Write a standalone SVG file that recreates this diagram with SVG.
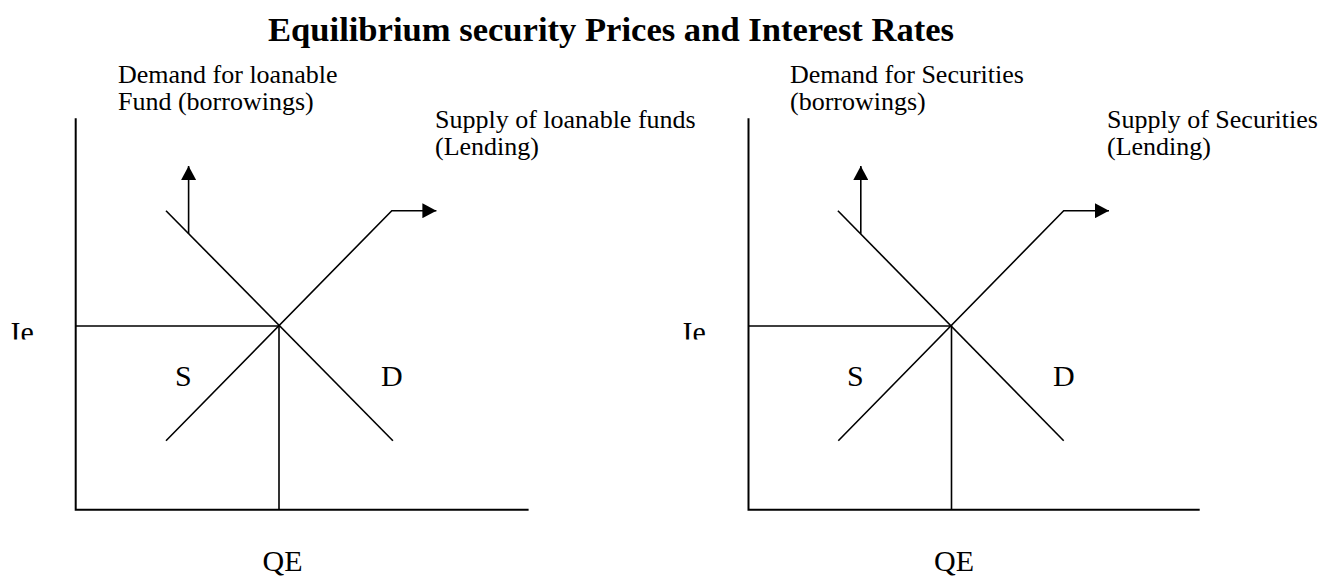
<svg xmlns="http://www.w3.org/2000/svg" width="1337" height="579" viewBox="0 0 1337 579">
  <defs>
    <style>
      .axis { stroke: #000; stroke-width: 2; fill: none; }
      .ln { stroke: #000; stroke-width: 1.6; fill: none; }
      .title { font-family: "Liberation Serif", "Times New Roman", serif; font-size: 34.6px; font-weight: bold; fill: #000; }
      .lbl { font-family: "Liberation Serif", "Times New Roman", serif; font-size: 26px; fill: #000; }
      .big { font-family: "Liberation Serif", "Times New Roman", serif; font-size: 30px; fill: #000; }
    </style>
    <marker id="arrow" markerUnits="userSpaceOnUse" markerWidth="15" markerHeight="15" refX="14" refY="7.5" orient="auto">
      <path d="M0,0 L14,7.5 L0,15 Z" fill="#000"/>
    </marker>
    <clipPath id="clipIe">
      <rect x="0" y="300" width="1337" height="39.5"/>
    </clipPath>
  </defs>
  <rect width="1337" height="579" fill="#fff"/>

  <text id="title" class="title" x="268" y="41">Equilibrium security Prices and Interest Rates</text>

  <g id="chart-left">
    <g id="left-labels">
      <text class="lbl" x="118" y="83">Demand for loanable</text>
      <text class="lbl" x="118" y="110">Fund (borrowings)</text>
      <text class="lbl" x="435" y="128">Supply of loanable funds</text>
      <text class="lbl" x="435" y="155">(Lending)</text>
      <text class="big" x="10.5" y="341.5" clip-path="url(#clipIe)">Ie</text>
      <text class="big" x="175" y="386">S</text>
      <text class="big" x="381" y="386">D</text>
      <text class="big" x="262.5" y="571">QE</text>
    </g>
    <g id="left-connectors">
      <polyline class="axis" points="75.7,118.3 75.7,509.7 528.6,509.7"/>
      <polyline class="ln" points="75.7,326 279,326 279,509.7"/>
      <line class="ln" x1="166" y1="210.7" x2="392.9" y2="440.7"/>
      <polyline class="ln" points="166,440.7 391.8,210.7 436.4,210.7" marker-end="url(#arrow)"/>
      <line class="ln" x1="188.6" y1="233.8" x2="188.6" y2="166" marker-end="url(#arrow)"/>
    </g>
  </g>

  <g id="chart-right">
    <g id="right-labels">
      <text class="lbl" x="790" y="83">Demand for Securities</text>
      <text class="lbl" x="790" y="110">(borrowings)</text>
      <text class="lbl" x="1107" y="128">Supply of Securities</text>
      <text class="lbl" x="1107" y="155">(Lending)</text>
      <text class="big" x="682.5" y="341.5" clip-path="url(#clipIe)">Ie</text>
      <text class="big" x="847" y="386">S</text>
      <text class="big" x="1053" y="386">D</text>
      <text class="big" x="934" y="571">QE</text>
    </g>
    <g id="right-connectors">
      <polyline class="axis" points="748.5,118.3 748.5,509.7 1199.7,509.7"/>
      <polyline class="ln" points="748.5,326 951.5,326 951.5,509.7"/>
      <line class="ln" x1="837.9" y1="210.7" x2="1063.7" y2="440.7"/>
      <polyline class="ln" points="838.3,440.7 1063.7,210.7 1109,210.7" marker-end="url(#arrow)"/>
      <line class="ln" x1="860.8" y1="233.8" x2="860.8" y2="166" marker-end="url(#arrow)"/>
    </g>
  </g>
</svg>
